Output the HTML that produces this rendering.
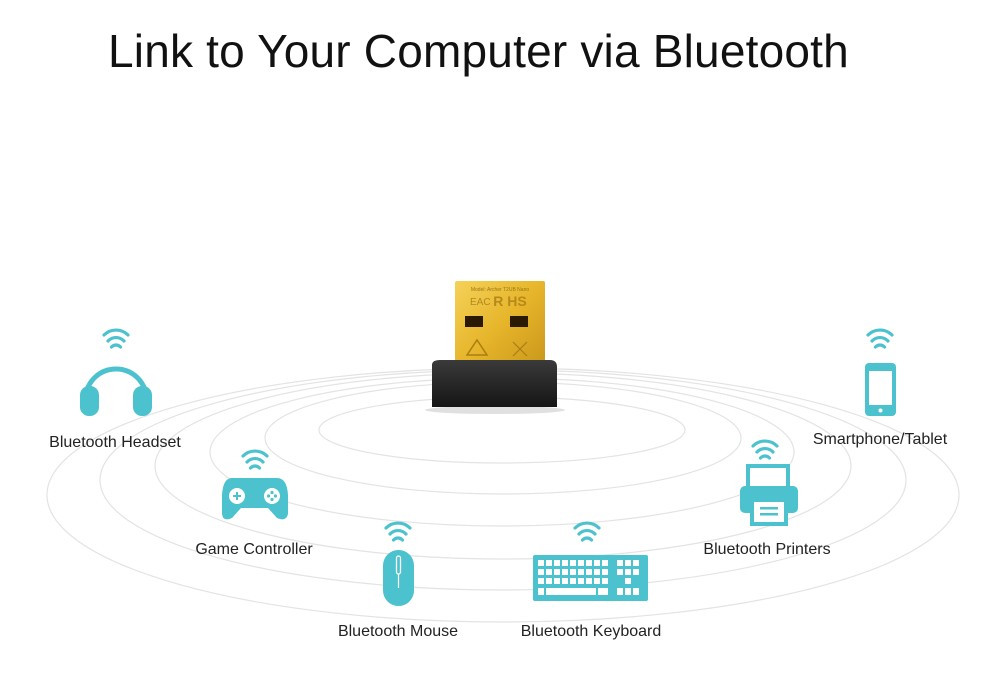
<!DOCTYPE html>
<html><head><meta charset="utf-8"><style>
html,body{margin:0;padding:0;background:#fff;}
body{width:1004px;height:678px;overflow:hidden;position:relative;font-family:"Liberation Sans",sans-serif;}
h1{position:absolute;left:108px;top:24px;margin:0;font-weight:400;font-size:46px;color:#111;letter-spacing:0.2px;white-space:nowrap;}
</style></head><body>
<h1>Link to Your Computer via Bluetooth</h1>
<svg width="1004" height="678" style="position:absolute;left:0;top:0" xmlns="http://www.w3.org/2000/svg">
<defs>
<linearGradient id="gold" x1="0" y1="0" x2="1" y2="1">
<stop offset="0" stop-color="#f5d25a"/><stop offset="0.5" stop-color="#e6b52a"/><stop offset="1" stop-color="#c8951a"/>
</linearGradient>
<linearGradient id="blk" x1="0" y1="0" x2="0" y2="1">
<stop offset="0" stop-color="#3a3a3a"/><stop offset="1" stop-color="#151515"/>
</linearGradient>
<g id="wifi" fill="none" stroke="#4bc2cd" stroke-width="3.2" stroke-linecap="round">
<path d="M-12,-12 A17,17 0 0 1 12,-12"/>
<path d="M-8,-6 A11,11 0 0 1 8,-6"/>
<path d="M-4.5,0 A6,6 0 0 1 4.5,0"/>
</g>
</defs>
<g fill="none" stroke="#e3e3e3" stroke-width="1.2">
<ellipse cx="502" cy="430" rx="183" ry="33"/>
<ellipse cx="503" cy="438" rx="238" ry="56"/>
<ellipse cx="502" cy="452" rx="292" ry="74"/>
<ellipse cx="503" cy="466" rx="348" ry="93"/>
<ellipse cx="503" cy="480" rx="403" ry="110"/>
<ellipse cx="503" cy="495" rx="456" ry="127"/>
</g>
<!-- device -->
<ellipse cx="495" cy="410" rx="70" ry="4" fill="#ccc" opacity="0.6"/>
<rect x="455" y="281" width="90" height="90" rx="2" fill="url(#gold)"/>
<text x="500" y="291" font-size="5" fill="#9a7410" text-anchor="middle">Model: Archer T2UB Nano</text>
<text x="510" y="306" font-size="14" fill="#b5891a" text-anchor="middle" font-weight="bold">R HS</text>
<text x="470" y="305" font-size="10" fill="#b5891a">EAC</text>
<rect x="465" y="316" width="18" height="11" fill="#2a1a05"/>
<rect x="510" y="316" width="18" height="11" fill="#2a1a05"/>
<path d="M467,355 L477,340 L487,355 Z" fill="none" stroke="#a87e15" stroke-width="1.5"/>
<path d="M513,342 L527,356 M527,342 L513,356" stroke="#a87e15" stroke-width="1.2"/>
<path d="M432,365 Q432,360 440,360 L550,360 Q557,360 557,367 L557,407 L432,407 Z" fill="url(#blk)"/>
<!-- wifi -->
<use href="#wifi" x="116" y="347"/>
<use href="#wifi" x="255" y="468"/>
<use href="#wifi" x="398" y="540"/>
<use href="#wifi" x="587" y="540"/>
<use href="#wifi" x="765" y="458"/>
<use href="#wifi" x="880" y="347"/>
<g fill="#4bc2cd" stroke="none">
<!-- headset -->
<path d="M86,398 A30,29 0 0 1 146,398" fill="none" stroke="#4bc2cd" stroke-width="5"/>
<rect x="80" y="386" width="19" height="30" rx="9"/>
<rect x="133" y="386" width="19" height="30" rx="9"/>
<rect x="99" y="390" width="3" height="24" fill="#fff"/>
<rect x="130" y="390" width="3" height="24" fill="#fff"/>
<!-- controller -->
<path d="M232,478 L277,478 Q287,478 288,495 L288,514 Q286,522 277,518 L268,508 L241,508 L232,518 Q223,522 222,514 L222,495 Q223,478 232,478 Z"/>
<circle cx="237" cy="496" r="8" fill="#fff"/>
<path d="M233,496 h8 M237,492 v8" stroke="#4bc2cd" stroke-width="2"/>
<circle cx="272" cy="496" r="8" fill="#fff"/>
<circle cx="272" cy="492.5" r="1.6"/><circle cx="272" cy="499.5" r="1.6"/><circle cx="268.5" cy="496" r="1.6"/><circle cx="275.5" cy="496" r="1.6"/>
<!-- mouse -->
<rect x="383" y="550" width="31" height="56" rx="15.5"/>
<rect x="396.5" y="556" width="4" height="18" rx="2" fill="none" stroke="#fff" stroke-width="1.3"/>
<path d="M398.5,574 v14" stroke="#fff" stroke-width="1.2"/>
<!-- keyboard -->
<rect x="533" y="555" width="115" height="46" rx="2"/>
<g fill="#fff">
<rect x="538" y="560" width="6" height="6"/><rect x="546" y="560" width="6" height="6"/><rect x="554" y="560" width="6" height="6"/><rect x="562" y="560" width="6" height="6"/><rect x="570" y="560" width="6" height="6"/><rect x="578" y="560" width="6" height="6"/><rect x="586" y="560" width="6" height="6"/><rect x="594" y="560" width="6" height="6"/><rect x="602" y="560" width="6" height="6"/><rect x="617" y="560" width="6" height="6"/><rect x="625" y="560" width="6" height="6"/><rect x="633" y="560" width="6" height="6"/>
<rect x="538" y="569" width="6" height="6"/><rect x="546" y="569" width="6" height="6"/><rect x="554" y="569" width="6" height="6"/><rect x="562" y="569" width="6" height="6"/><rect x="570" y="569" width="6" height="6"/><rect x="578" y="569" width="6" height="6"/><rect x="586" y="569" width="6" height="6"/><rect x="594" y="569" width="6" height="6"/><rect x="602" y="569" width="6" height="6"/><rect x="617" y="569" width="6" height="6"/><rect x="625" y="569" width="6" height="6"/><rect x="633" y="569" width="6" height="6"/>
<rect x="538" y="578" width="6" height="6"/><rect x="546" y="578" width="6" height="6"/><rect x="554" y="578" width="6" height="6"/><rect x="562" y="578" width="6" height="6"/><rect x="570" y="578" width="6" height="6"/><rect x="578" y="578" width="6" height="6"/><rect x="586" y="578" width="6" height="6"/><rect x="594" y="578" width="6" height="6"/><rect x="602" y="578" width="6" height="6"/><rect x="625" y="578" width="6" height="6"/>
<rect x="538" y="588" width="6" height="7"/><rect x="546" y="588" width="50" height="7"/><rect x="598" y="588" width="10" height="7"/><rect x="617" y="588" width="6" height="7"/><rect x="625" y="588" width="6" height="7"/><rect x="633" y="588" width="6" height="7"/>
</g>
<!-- printer -->
<rect x="748" y="466" width="40" height="24" fill="#fff" stroke="#4bc2cd" stroke-width="4"/>
<rect x="740" y="486" width="58" height="27" rx="5"/>
<rect x="752" y="500" width="34" height="24" fill="#fff" stroke="#4bc2cd" stroke-width="4"/>
<rect x="760" y="507" width="18" height="2.5"/><rect x="760" y="513" width="18" height="2.5"/>
<!-- phone -->
<rect x="865" y="363" width="31" height="53" rx="4"/>
<rect x="869" y="371" width="23" height="34" fill="#fff"/>
<circle cx="880.5" cy="410.5" r="2" fill="#fff"/>
</g>
<g font-size="16" fill="#222" text-anchor="middle" font-family="Liberation Sans, sans-serif">
<text x="115" y="447">Bluetooth Headset</text>
<text x="254" y="554">Game Controller</text>
<text x="398" y="636">Bluetooth Mouse</text>
<text x="591" y="636">Bluetooth Keyboard</text>
<text x="767" y="554">Bluetooth Printers</text>
<text x="880" y="444">Smartphone/Tablet</text>
</g>
</svg>
</body></html>
